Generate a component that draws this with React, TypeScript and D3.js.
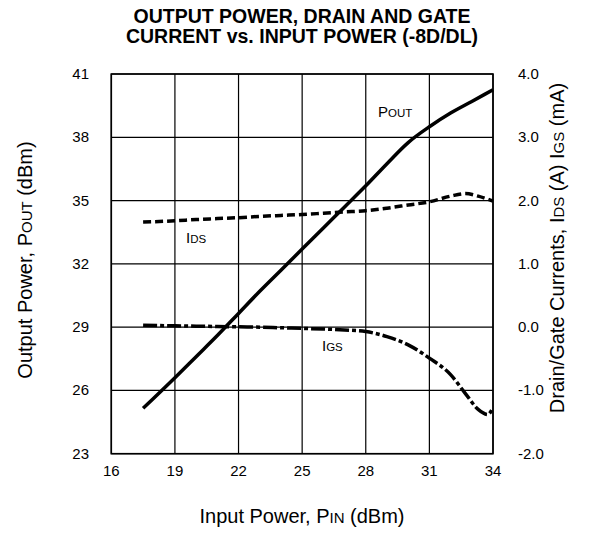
import React from "react";
import * as d3 from "d3";

const xTicks = [16, 19, 22, 25, 28, 31, 34];
const leftTicks = [23, 26, 29, 32, 35, 38, 41];
const rightTicks = [-2, -1, 0, 1, 2, 3, 4];

const poutPin = [17.5, 19, 20, 21, 22, 23, 24, 25, 26, 27, 28, 29, 30, 31, 32, 33, 34];
const poutVal = [25.15, 26.6, 27.6, 28.6, 29.65, 30.7, 31.7, 32.7, 33.7, 34.7, 35.7, 36.75, 37.75, 38.5, 39.15, 39.7, 40.25];

const idsPin = [17.5, 19, 20, 21, 22, 23, 24, 25, 26, 27, 28, 29, 30, 31, 32, 32.7, 33.3, 34];
const idsVal = [1.66, 1.68, 1.7, 1.715, 1.73, 1.75, 1.765, 1.78, 1.8, 1.82, 1.84, 1.88, 1.93, 1.98, 2.07, 2.11, 2.07, 1.99];

const igsPin = [17.5, 19, 20, 21, 22, 23, 24, 25, 26, 27, 28, 29, 30, 31, 32, 32.7, 33.3, 33.75, 34];
const igsVal = [0.03, 0.02, 0.015, 0.01, 0.005, 0, -0.01, -0.02, -0.03, -0.045, -0.07, -0.15, -0.28, -0.49, -0.75, -1.05, -1.3, -1.38, -1.27];

const FONT = "'Liberation Sans', Arial, Helvetica, sans-serif";

export default function App() {
  const x = d3.scaleLinear().domain([16, 34]).range([111.3, 493]);
  const yL = d3.scaleLinear().domain([23, 41]).range([453.7, 74]);
  const yR = d3.scaleLinear().domain([-2, 4]).range([453.7, 74]);

  const mk = (xs: number[], ys: number[], ys2: (v: number) => number) =>
    d3
      .line<number>()
      .x((_, i) => x(xs[i]))
      .y((v) => ys2(v))
      .curve(d3.curveMonotoneX)(ys) as string;

  const pPath = mk(poutPin, poutVal, yL);
  const iPath = mk(idsPin, idsVal, yR);
  const gPath = mk(igsPin, igsVal, yR);

  const [x0, x1] = x.range();
  const [yb, yt] = yL.range();

  return (
    <svg
      width={591}
      height={534}
      style={{ position: "absolute", left: 0, top: 0, background: "#fff" }}
      fontFamily={FONT}
    >
      <rect x={0} y={0} width={591} height={534} fill="#fff" />
      <text x={302} y={23} textAnchor="middle" fontSize={19.5} fontWeight="bold">
        OUTPUT POWER, DRAIN AND GATE
      </text>
      <text x={302} y={43} textAnchor="middle" fontSize={19.5} fontWeight="bold">
        CURRENT vs. INPUT POWER (-8D/DL)
      </text>

      {xTicks.map((t) => (
        <line key={"gx" + t} x1={x(t)} x2={x(t)} y1={yt} y2={yb} stroke="#000" strokeWidth={1.2} />
      ))}
      {leftTicks.map((t) => (
        <line key={"gy" + t} x1={x0} x2={x1} y1={yL(t)} y2={yL(t)} stroke="#000" strokeWidth={1.2} />
      ))}
      <rect x={x0} y={yt} width={x1 - x0} height={yb - yt} fill="none" stroke="#000" strokeWidth={1.6} />

      {xTicks.map((t) => (
        <text key={"tx" + t} x={x(t)} y={476} textAnchor="middle" fontSize={15}>
          {t}
        </text>
      ))}
      {leftTicks.map((t) => (
        <text key={"tl" + t} x={89} y={yL(t) + 5} textAnchor="end" fontSize={15}>
          {t}
        </text>
      ))}
      {rightTicks.map((t) => (
        <text key={"tr" + t} x={518} y={yR(t) + 5} textAnchor="start" fontSize={15}>
          {t.toFixed(1)}
        </text>
      ))}

      <path d={pPath} fill="none" stroke="#000" strokeWidth={3.5} />
      <path d={iPath} fill="none" stroke="#000" strokeWidth={3.5} strokeDasharray="8,4" />
      <path d={gPath} fill="none" stroke="#000" strokeWidth={3.5} strokeDasharray="14,3,4,3" />

      <text x={378} y={117} fontSize={15}>
        P<tspan fontSize={11.5}>OUT</tspan>
      </text>
      <text x={186} y={243} fontSize={15}>
        I<tspan fontSize={11.5}>DS</tspan>
      </text>
      <text x={322} y={351} fontSize={15}>
        I<tspan fontSize={11.5}>GS</tspan>
      </text>

      <text x={302} y={523} textAnchor="middle" fontSize={20}>
        Input Power, P<tspan fontSize={15}>IN</tspan> (dBm)
      </text>
      <text transform="translate(32,260) rotate(-90)" textAnchor="middle" fontSize={20}>
        Output Power, P<tspan fontSize={15}>OUT</tspan> (dBm)
      </text>
      <text transform="translate(564,248) rotate(-90)" textAnchor="middle" fontSize={20}>
        Drain/Gate Currents, I<tspan fontSize={15}>DS</tspan> (A) I<tspan fontSize={15}>GS</tspan> (mA)
      </text>
    </svg>
  );
}
